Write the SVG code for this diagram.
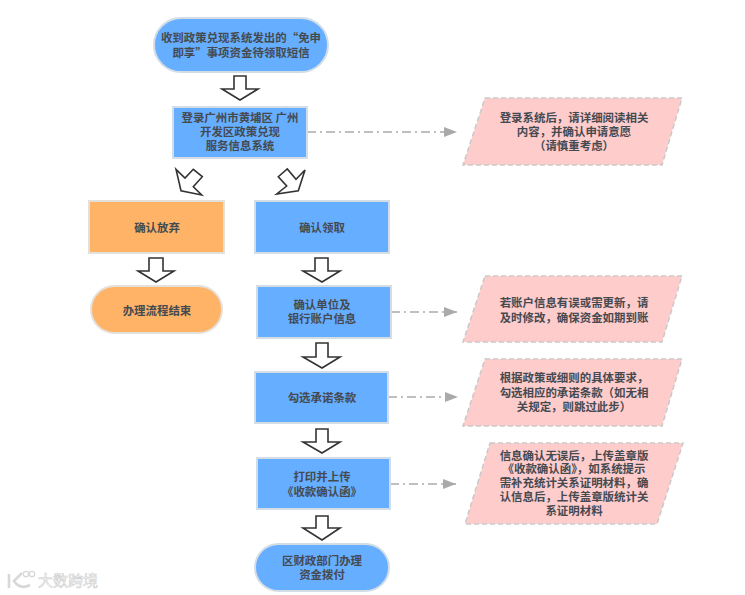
<svg xmlns="http://www.w3.org/2000/svg" width="745" height="595" viewBox="0 0 745 595">
<style>
text{font-family:"Noto Sans CJK SC","Liberation Sans",sans-serif;font-size:11.45px;font-weight:700;fill:#454a50;text-anchor:middle}
.blue{fill:#66aeff;stroke:#d3dde6;stroke-width:2}
.orange{fill:#ffb366;stroke:#e4e0da;stroke-width:2}
.note{fill:#ffcccc;stroke:#c9c9c9;stroke-width:1.5;stroke-dasharray:5 3}
.flow{fill:#fff;stroke:#333;stroke-width:1.6;stroke-linejoin:miter}
.link{fill:none;stroke:#aaa;stroke-width:1.5;stroke-dasharray:9 4 2 4;marker-end:url(#head)}
.mark{font-size:15px;fill:#fff;stroke:#cfcfcf;stroke-width:.6;font-weight:400}
</style>
<defs>
<marker id="head" markerUnits="userSpaceOnUse" markerWidth="13" markerHeight="10" refX="13" refY="5" orient="auto"><path d="M0 0L13 5L0 10Z" fill="#aaa"/></marker>
</defs>
<g id="connectors">
<polygon class="flow" points="234,76 246,76 246,89 258,89 240,100 222,89 234,89"/>
<polygon class="flow" points="176,169.3 185,178 193.3,169.3 202.3,176.7 193.3,186.7 201.7,195 181,190.7"/>
<polygon class="flow" points="305,170 296,179.3 287.3,169 278.3,176.7 286.7,186 276.7,194 298.3,190.7"/>
<polygon class="flow" points="149,258 163,258 163,271 174,271 156,282 138,271 149,271"/>
<polygon class="flow" points="315,258 328,258 328,271 340,271 322,282 303,271 315,271"/>
<polygon class="flow" points="316,343 328,343 328,357 340,357 322,368 303,357 316,357"/>
<polygon class="flow" points="316,429 328,429 328,442 340,442 322,453 303,442 316,442"/>
<polygon class="flow" points="316,516 328,516 328,528 340,528 322,540 303,528 316,528"/>
<path class="link" d="M307 132H457"/>
<path class="link" d="M391 312H457"/>
<path class="link" d="M388 397H458"/>
<path class="link" d="M390 484H456"/>
</g>
<g id="start"><rect class="blue" x="154" y="18" width="174" height="54" rx="27"/><text x="241" y="42">收到政策兑现系统发出的“免申</text><text x="241" y="57">即享”事项资金待领取短信</text></g>
<g id="login"><rect class="blue" x="173" y="107" width="134" height="51"/><text x="240" y="122">登录广州市黄埔区 广州</text><text x="240" y="136">开发区政策兑现</text><text x="240" y="150">服务信息系统</text></g>
<g id="note-login"><polygon class="note" points="485,98 682,98 662,165 463,165"/><text x="574" y="122">登录系统后，请详细阅读相关</text><text x="574" y="136">内容，并确认申请意愿</text><text x="574" y="150">（请慎重考虑）</text></g>
<g id="abandon"><rect class="orange" x="89" y="201" width="135" height="52"/><text x="157" y="232">确认放弃</text></g>
<g id="end"><rect class="orange" x="91" y="286" width="131" height="47" rx="23.5"/><text x="157" y="315">办理流程结束</text></g>
<g id="claim"><rect class="blue" x="255" y="201" width="134" height="52"/><text x="322" y="232">确认领取</text></g>
<g id="account"><rect class="blue" x="257" y="286" width="134" height="52"/><text x="322" y="309">确认单位及</text><text x="322" y="323">银行账户信息</text></g>
<g id="note-account"><polygon class="note" points="485,276 682,276 662,342 463,342"/><text x="574" y="307">若账户信息有误或需更新，请</text><text x="574" y="322">及时修改，确保资金如期到账</text></g>
<g id="terms"><rect class="blue" x="255" y="372" width="133" height="51"/><text x="322" y="402">勾选承诺条款</text></g>
<g id="note-terms"><polygon class="note" points="485,359 682,359 662,426 463,426"/><text x="574" y="382">根据政策或细则的具体要求，</text><text x="574" y="397">勾选相应的承诺条款（如无相</text><text x="574" y="411">关规定，则跳过此步）</text></g>
<g id="upload"><rect class="blue" x="257" y="458" width="133" height="51"/><text x="322" y="481">打印并上传</text><text x="322" y="496">《收款确认函》</text></g>
<g id="note-upload"><polygon class="note" points="490,443 683,443 657,524 465,524"/><text x="574" y="460">信息确认无误后，上传盖章版</text><text x="574" y="473">《收款确认函》，如系统提示</text><text x="574" y="487">需补充统计关系证明材料，确</text><text x="574" y="501">认信息后，上传盖章版统计关</text><text x="574" y="515">系证明材料</text></g>
<g id="pay"><rect class="blue" x="255" y="544" width="134" height="47" rx="23.5"/><text x="322" y="565">区财政部门办理</text><text x="322" y="579">资金拨付</text></g>
<g id="watermark"><path d="M9 574V588M22 573L14 581C18 587 24 588 30 585" fill="none" stroke="#d8d8d8" stroke-width="2.6"/><circle cx="26" cy="574" r="2.7" fill="#fff" stroke="#d8d8d8" stroke-width="1.3"/><circle cx="32" cy="574" r="2.7" fill="#fff" stroke="#d8d8d8" stroke-width="1.3"/><text class="mark" x="68" y="586">大数跨境</text></g>
</svg>
